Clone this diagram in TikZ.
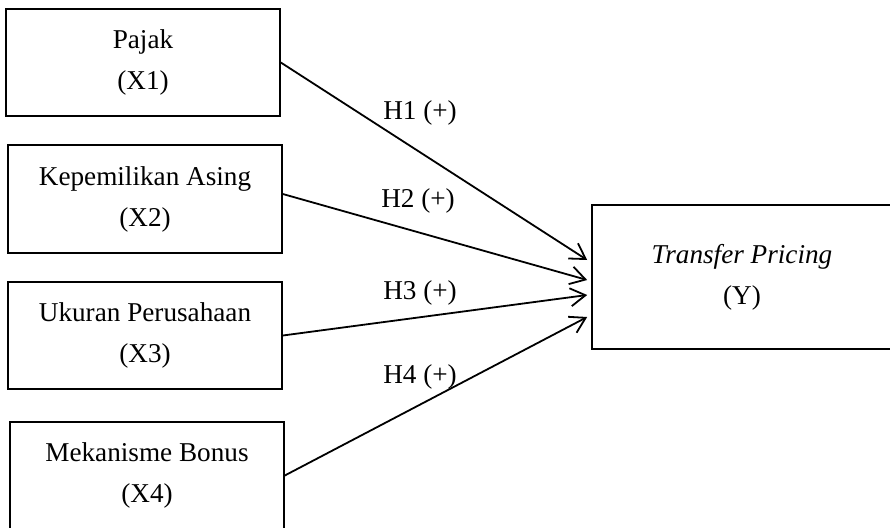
\documentclass[tikz,border=0pt]{standalone}
\usepackage{fontspec}
\setmainfont{Liberation Serif}
\usetikzlibrary{arrows.meta}

\tikzset{
  varbox/.style={draw, line width=0.8pt, minimum width=137pt, minimum height=53.5pt,
    align=center, inner sep=0pt, font=\fontsize{13.6}{20.5}\selectfont},
  hyp/.style={font=\fontsize{13.6}{16}\selectfont, inner sep=0pt},
  link/.style={line width=0.9pt, -{Straight Barb[length=7.5pt,width=9pt]}}
}

\begin{document}
\begin{tikzpicture}[x=0.5pt,y=0.5pt]
\clip (0,0) rectangle (890,527);
\node[varbox] (x1) at (143,464.5) {Pajak\\(X1)};
\node[varbox, minimum height=54pt] (x2) at (145,328) {Kepemilikan Asing\\(X2)};
\node[varbox] (x3) at (145,191.5) {Ukuran Perusahaan\\(X3)};
\node[varbox] (x4) at (147,51.5) {Mekanisme Bonus\\(X4)};
\node[varbox, minimum width=150pt, minimum height=72pt] (ty) at (742,250) {\textit{Transfer Pricing}\\(Y)};
\coordinate (e1) at ([shift={(-4,17)}]ty.west);
\coordinate (e2) at ([shift={(-4,-3)}]ty.west);
\coordinate (e3) at ([shift={(-4,-18)}]ty.west);
\coordinate (e4) at ([shift={(-4,-40)}]ty.west);
\draw[link] (x1.east) -- (e1);
\draw[link] ([yshift=2.5pt]x2.east) -- (e2);
\draw[link] (x3.east) -- (e3);
\draw[link] (x4.east) -- (e4);
\node[hyp] (h1) at (420,414) {H1 (+)};
\node[hyp] (h2) at (418,326) {H2 (+)};
\node[hyp] (h3) at (420,234) {H3 (+)};
\node[hyp] (h4) at (420,150) {H4 (+)};
\end{tikzpicture}
\end{document}
